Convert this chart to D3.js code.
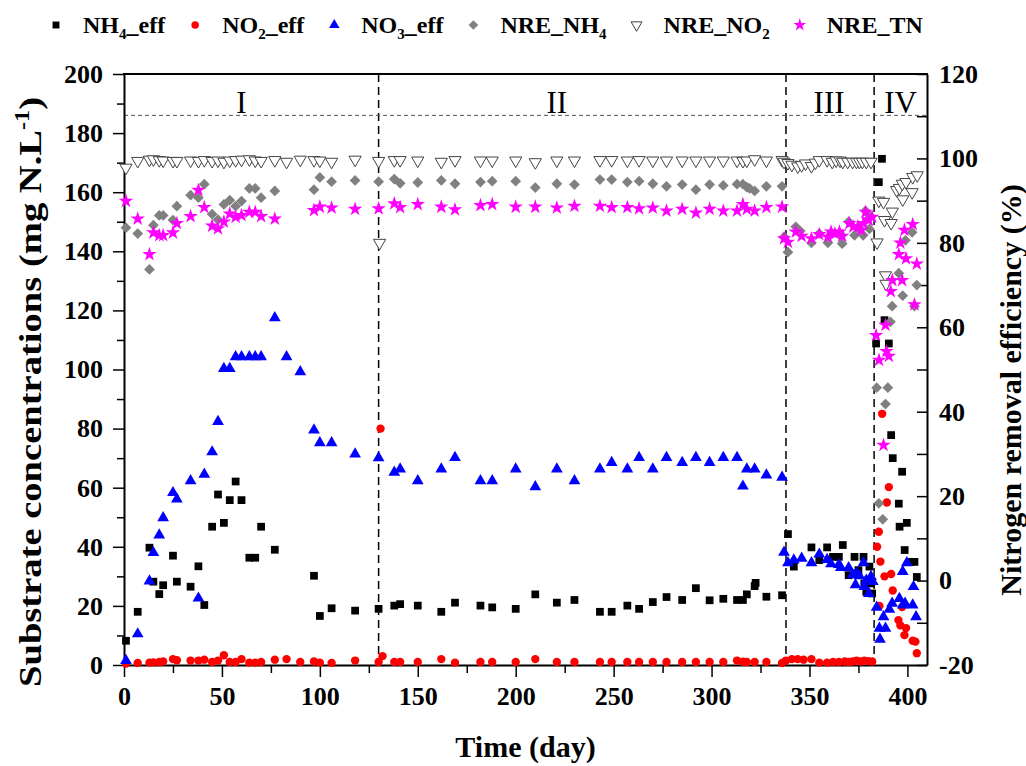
<!DOCTYPE html>
<html>
<head>
<meta charset="utf-8">
<script src="https://cdn.jsdelivr.net/npm/d3@7"></script>
<style>
  body { margin: 0; background: #fff; }
  text { font-family: "Liberation Serif", "Times New Roman", serif; }
</style>
</head>
<body>
<div id="chart"></div>
<script>
var width = 1026;
var height = 766;
var margin = {top: 74, right: 99, bottom: 101, left: 124};

// ---- data: [day, value] ----
var nh4Eff = [[1,8.2],[7,18],[13,39.7],[15,28.2],[18,24],[20,27],[25,37],[27,28.2],[34,26.5],[38,33.4],[41,20.3],[45,46.8],[48,57.7],[51,48.1],[54,55.8],[57,62.1],[60,55.8],[64,36.3],[67,36.3],[70,46.8],[77,39],[97,30.2],[100,16.6],[106,19.2],[118,18.4],[130,19],[138,20.1],[141,20.6],[150,20.1],[162,18],[169,21.1],[182,20.1],[188,19.5],[200,19],[210,23.9],[221,21.1],[230,22],[243,18],[249,18],[257,20.1],[263,19],[270,21.3],[277,23],[285,22],[292,26],[299,21.9],[306,22.4],[313,22],[316,22],[318,23.9],[322,26.7],[322.5,27.8],[328,23.1],[336,23.6],
  [339,44.3],[342,33.3],[351,39.8],[355,35.5],[359,39.8],[362,36.6],[365,36.6],[367,40.6],[370,30.4],[373,36.6],[374,31],[375,32.1],[377.6,36.6],[378,27.6],[379,24.8],[380,28.7],[380.6,33.3],[381.4,27.6],[382,24.2],
  [384,108.8],[385.4,163.4],[387,171.3],[388.3,116.7],[390.5,108.8],[391.7,77.8],[392.5,70],[395.6,54.6],[396,46.8],[397.3,65.4],[398.6,38.9],[399.7,48.1],[402,34.9],[403.6,34.9],[404.8,29.8]];

var no2Eff = [[1,0.5],[7,0.7],[13,0.8],[15,0.9],[18,1],[20,1.2],[25,2],[27,1.6],[34,1.5],[38,1.5],[41,1.8],[45,1],[48,1.5],[51,3.3],[54,1],[57,1],[60,2],[64,0.8],[67,0.8],[70,1],[77,1.8],[83,2],[90,1],[97,1.2],[100,0.8],[106,0.7],[118,1.5],[130,1],[131,80],[132,3],[138,1],[141,1],[150,1],[162,2],[169,0.8],[182,1],[188,1],[200,1],[210,2],[221,1],[230,1],[243,1],[249,1],[257,1],[263,1],[270,1],[277,1],[285,1],[292,1],[299,1],[306,1],[313,1.5],[316,1.1],[318,1],[322,1],[328,1],[336,0.7],
  [338,1.5],[341,2],[344,2],[347,1.8],[351,2],[355,0.8],[359,0.8],[362,1],[365,1],[368,1.2],[370,1],[372,1.2],[374,1.5],[376,1.2],[378,1.5],[380,1.3],[382,1.2],
  [384.5,40],[385.4,45.1],[385.7,20],[386.2,35],[387.1,85],[388.3,30],[389.5,55],[390.5,60.2],[391.7,30.8],[392.5,25.2],[395.4,15.2],[396.4,13.4],[397.3,19.6],[398.5,10.1],[399.3,12.5],[402.7,8.2],[404.1,7.9],[404.8,4]];

var no3Eff = [[1,1.5],[7,10.5],[13,28.4],[15,38],[18,44],[20,49.8],[25,58.3],[27,56.1],[34,62.3],[38,22.6],[41,64.5],[45,72.1],[48,82.4],[51,100.3],[54,100.3],[57,104.3],[60,104.3],[64,104.3],[67,104.3],[70,104.3],[77,117.5],[83,104.3],[90,99.2],[97,79.5],[100,75.2],[106,75.2],[118,71.4],[130,70.1],[138,65.2],[141,66.3],[150,62.3],[162,66.3],[169,70.2],[182,62.3],[188,62.3],[200,66.3],[210,60.3],[221,66.3],[230,62.3],[243,66.3],[249,68.5],[257,66.3],[263,70.2],[270,66.3],[277,70.2],[285,68.5],[292,70.2],[299,68.5],[306,70.2],[313,70.2],[316,60.5],[318,66.3],[322,66.3],[328,64.3],[336,63.5],
  [337,38.1],[339,34.6],[342,35.5],[346,36.1],[351,34.6],[355,37.5],[359,35.7],[361,34.2],[365,34],[366,33],[370,32.9],[372,30.5],[373.5,27.1],[374,31],[375.5,30.2],[377.6,34.6],[378,26.5],[379,28.7],[380.3,24.2],[381.4,29.9],[382.3,28.2],
  [384.3,19.5],[385.7,12.4],[386,8.7],[387.8,16.3],[388.8,12.4],[390.8,18.8],[392.2,20.9],[395.9,22.5],[397.6,20.3],[397.6,31.6],[398.8,20.9],[399.7,34.6],[402.7,20.3],[403.1,26.5],[404.4,16.3]];

var nreNh4 = [[1,83.6],[7,82.2],[13,73.7],[15,84.2],[18,86.5],[20,86.5],[25,85.4],[27,88.7],[34,91.3],[38,90.7],[41,93.9],[45,86.8],[48,85.5],[51,89.1],[54,90.1],[57,88.7],[60,89.9],[64,92.9],[67,92.9],[70,90.7],[77,92.3],[97,92.6],[100,95.5],[106,94.5],[118,94.8],[130,94.5],[138,95.1],[141,94.1],[150,94.3],[162,94.8],[169,94],[182,94.4],[188,94.6],[200,94.6],[210,93.1],[221,94],[230,93.8],[243,95],[249,95],[257,94.4],[263,94.6],[270,94],[277,93.4],[285,93.8],[292,92.6],[299,93.8],[306,93.6],[313,93.9],[316,93.9],[318,93.2],[319.4,92.9],[322,92.3],[328,93.4],[336,93.4],
  [337,81.4],[339,77.8],[343,83.8],[345.3,82.8],[351,80],[355,82.2],[359.4,80],[361.6,82.2],[365.6,82.2],[366.7,79.8],[370,85],[373,81.8],[375.5,83.4],[377.4,81.8],[378.6,87.6],[380.6,83.3],[380.6,86.5],
  [384.3,45.7],[385.4,18.3],[387.4,14.5],[388.8,41.8],[390,45.7],[391.3,61.3],[392.2,65],[395.6,72.8],[397.6,67.5],[399,80.6],[402.4,82.5],[403.6,65],[404.8,70]];

var nreNo2 = [[1,97.8],[7,99.4],[13,99.7],[15,99.8],[18,99.6],[20,99.5],[25,99.4],[27,99.4],[34,99.5],[38,99.4],[41,99.6],[45,99.4],[48,99.5],[51,99.2],[54,99.5],[57,99.6],[60,99.7],[64,99.8],[67,99.5],[70,99.4],[77,99.6],[83,99.2],[90,99.7],[97,99.6],[100,99.5],[106,99.2],[118,99.7],[130,99.4],[130.5,80],[138,99.6],[141,99.6],[150,99.5],[162,99.2],[169,99.6],[182,99.5],[188,99.5],[200,99.5],[210,99.1],[221,99.5],[230,99.5],[243,99.6],[249,99.6],[257,99.5],[263,99.6],[270,99.5],[277,99.5],[285,99.5],[292,99.5],[299,99.5],[306,99.5],[313,99.5],[316,99.4],[318,99.5],[322,99.8],[328,99.5],
  [336,99.6],[337,99.2],[339,98.9],[341,98.5],[344,98.1],[346,98.4],[348,98.8],[351,98.2],[353,99],[355,99.6],[359,99.6],[361.6,99.2],[363.6,99.5],[365.6,99.5],[367,99.2],[369.5,99.2],[372,99.2],[374,99.2],[375.5,99.2],[377,99.2],[379,99.2],[381.4,99.2],
  [384.5,80.1],[385.4,90],[387.8,89.7],[388.3,85.4],[388.8,72.3],[389.1,70.3],[391.7,84.7],[392.3,87.4],[394.5,92.5],[395.9,93],[397.4,94],[397.6,90.3],[399.3,94.4],[402.4,92],[402.7,95.6],[405,96]];

var nreTn = [[1,89.9],[7,85.7],[13,77.3],[15,82.4],[18,81.8],[20,81.8],[25,82.4],[27,84.6],[34,86.3],[38,92.5],[41,88.4],[45,84],[48,83.4],[51,85],[54,86.9],[57,86.1],[60,86.5],[64,87.3],[67,87.3],[70,86.3],[77,85.7],[97,87.7],[100,88.5],[106,88.3],[118,88],[130,88.1],[138,89.3],[141,88.4],[150,89.1],[162,88.5],[169,87.9],[182,88.9],[188,89.1],[200,88.5],[210,88.5],[221,88.3],[230,88.7],[243,88.7],[249,88.4],[257,88.4],[263,88.1],[270,88.3],[277,87.6],[285,88],[292,87.1],[299,88],[306,87.6],[313,87.6],[316,89.1],[318,88],[322,87.6],[328,88.4],[336,88.5],
  [337,81],[339,80.2],[343,82.6],[346,81.6],[351,81],[355,82],[359.4,81.4],[361,82.6],[363,82.2],[365.3,82.6],[366.7,81.6],[370.4,84.6],[372.4,83.8],[374.7,83.9],[376.4,83],[377.6,84.6],[378.6,87.3],[379.8,85.5],[380.3,85.4],[382,86.1],
  [384,58.1],[385.5,52.2],[387.8,32.1],[388.8,60.5],[389.3,54.3],[390.5,53.2],[391.5,68.5],[392.3,71.1],[395.6,77.3],[396.4,80],[397.3,71.1],[398.5,83],[399.3,76.3],[402.7,84.4],[403.6,65.4],[404.8,75]];

// phase boundaries and labels
var phaseLines = [130, 338, 383];
var phaseNames = ["I", "II", "III", "IV"];
var phaseLabelDays = [60, 221, 360, 396.5];

var xTicks = [0, 50, 100, 150, 200, 250, 300, 350, 400];
var leftTicks = [0, 20, 40, 60, 80, 100, 120, 140, 160, 180, 200];
var rightTicks = [-20, 0, 20, 40, 60, 80, 100, 120];

// ---- svg ----
var svg = d3.select("#chart").append("svg")
  .attr("width", width)
  .attr("height", height);

svg.append("rect").attr("width", width).attr("height", height).attr("fill", "#fff");

var x = d3.scaleLinear().domain([0, 410]).range([margin.left, width - margin.right]);
var yL = d3.scaleLinear().domain([0, 200]).range([height - margin.bottom, margin.top]);
var yR = d3.scaleLinear().domain([-20, 120]).range([height - margin.bottom, margin.top]);

var plotBottom = height - margin.bottom;
var plotRight = width - margin.right;

// phase separator lines
svg.selectAll(".phase")
  .data(phaseLines)
  .enter().append("line")
  .attr("x1", function(d) { return x(d); })
  .attr("x2", function(d) { return x(d); })
  .attr("y1", margin.top)
  .attr("y2", plotBottom)
  .attr("stroke", "#000")
  .attr("stroke-width", 1.5)
  .attr("stroke-dasharray", "8,5");

// horizontal dashed line under the phase labels
svg.append("line")
  .attr("x1", margin.left).attr("x2", plotRight)
  .attr("y1", yL(186)).attr("y2", yL(186))
  .attr("stroke", "#555")
  .attr("stroke-width", 1)
  .attr("stroke-dasharray", "4,3");

svg.selectAll(".phaseName")
  .data(phaseNames)
  .enter().append("text")
  .attr("x", function(d, i) { return x(phaseLabelDays[i]); })
  .attr("y", 113)
  .attr("text-anchor", "middle")
  .style("font-size", "31px")
  .text(function(d) { return d; });

// ---- axes ----
function styleAxis(g, size) {
  g.select(".domain").attr("stroke-width", 2);
  g.selectAll(".tick line").attr("stroke-width", 1.5);
  g.selectAll(".tick text")
    .style("font-family", "'Liberation Serif', 'Times New Roman', serif")
    .style("font-size", size)
    .style("font-weight", "bold")
    .attr("fill", "#000");
}

// minor ticks first
svg.append("g")
  .attr("transform", "translate(0," + plotBottom + ")")
  .call(d3.axisBottom(x).tickValues(d3.range(25, 410, 50)).tickSize(8).tickSizeOuter(0).tickFormat(""))
  .call(function(g) { g.select(".domain").remove(); g.selectAll(".tick line").attr("stroke-width", 1.5); });
svg.append("g")
  .attr("transform", "translate(" + margin.left + ",0)")
  .call(d3.axisLeft(yL).tickValues(d3.range(10, 200, 20)).tickSize(7).tickSizeOuter(0).tickFormat(""))
  .call(function(g) { g.select(".domain").remove(); g.selectAll(".tick line").attr("stroke-width", 1.5); });
svg.append("g")
  .attr("transform", "translate(" + plotRight + ",0)")
  .call(d3.axisRight(yR).tickValues(d3.range(-10, 120, 20)).tickSize(-10).tickSizeOuter(0).tickFormat(""))
  .call(function(g) { g.select(".domain").remove(); g.selectAll(".tick line").attr("stroke-width", 1.5); });

var xAxis = svg.append("g")
  .attr("transform", "translate(0," + plotBottom + ")")
  .call(d3.axisBottom(x).tickValues(xTicks).tickSize(12).tickSizeOuter(0).tickPadding(10).tickFormat(function(d) { return String(d); }));
styleAxis(xAxis, "26px");

var leftAxis = svg.append("g")
  .attr("transform", "translate(" + margin.left + ",0)")
  .call(d3.axisLeft(yL).tickValues(leftTicks).tickSize(11).tickSizeOuter(0).tickPadding(10).tickFormat(function(d) { return String(d); }));
styleAxis(leftAxis, "26px");

var rightAxis = svg.append("g")
  .attr("transform", "translate(" + plotRight + ",0)")
  .call(d3.axisRight(yR).tickValues(rightTicks).tickSize(-10).tickSizeOuter(0).tickPadding(12).tickFormat(function(d) { return String(d); }));
styleAxis(rightAxis, "26px");

// top frame line
svg.append("line")
  .attr("x1", margin.left - 1).attr("x2", plotRight + 1)
  .attr("y1", margin.top).attr("y2", margin.top)
  .attr("stroke", "#000").attr("stroke-width", 2);

// axis titles
svg.append("text")
  .attr("text-anchor", "middle")
  .attr("transform", "translate(" + ((margin.left + plotRight) / 2) + "," + 757 + ")")
  .style("font-size", "30px").style("font-weight", "bold")
  .text("Time (day)");

var lt = svg.append("text")
  .attr("text-anchor", "middle")
  .attr("transform", "translate(41,392) rotate(-90)")
  .attr("textLength", 590)
  .attr("lengthAdjust", "spacingAndGlyphs")
  .style("font-size", "32px").style("font-weight", "bold");
lt.append("tspan").text("Substrate concentrations (mg N.L");
lt.append("tspan").attr("dy", -12).style("font-size", "20px").text("-1");
lt.append("tspan").attr("dy", 12).text(")");

svg.append("text")
  .attr("text-anchor", "middle")
  .attr("transform", "translate(1021," + 390 + ") rotate(-90)")
  .style("font-size", "30px").style("font-weight", "bold")
  .text("Nitrogen removal efficiency (%)");

// ---- series ----
var series = [
  {data: nh4Eff, y: yL, sym: d3.symbolSquare, size: 60, rot: 0, fill: "#000", stroke: "none", main: "NH", sub: "4", tail: "_eff"},
  {data: no2Eff, y: yL, sym: d3.symbolCircle, size: 55, rot: 0, fill: "#ff0000", stroke: "none", main: "NO", sub: "2", tail: "_eff"},
  {data: no3Eff, y: yL, sym: d3.symbolTriangle, size: 60, rot: 0, fill: "#0000ff", stroke: "none", main: "NO", sub: "3", tail: "_eff"},
  {data: nreNh4, y: yR, sym: d3.symbolSquare, size: 58, rot: 45, fill: "#808080", stroke: "none", main: "NRE_NH", sub: "4", tail: ""},
  {data: nreNo2, y: yR, sym: d3.symbolTriangle, size: 65, rot: 180, fill: "#fff", stroke: "#444", main: "NRE_NO", sub: "2", tail: ""},
  {data: nreTn, y: yR, sym: d3.symbolStar, size: 65, rot: 0, fill: "#ff00ff", stroke: "none", main: "NRE_TN", sub: "", tail: ""}
];

series.forEach(function(s) {
  var path = d3.symbol().type(s.sym).size(s.size);
  svg.append("g").selectAll("path")
    .data(s.data)
    .enter().append("path")
    .attr("d", path)
    .attr("transform", function(d) {
      return "translate(" + x(d[0]) + "," + s.y(d[1]) + ") rotate(" + s.rot + ")";
    })
    .attr("fill", s.fill)
    .attr("stroke", s.stroke)
    .attr("stroke-width", 1);
});

// ---- legend ----
var lx = 56;
series.forEach(function(s) {
  var path = d3.symbol().type(s.sym).size(s.size * 0.8);
  svg.append("path")
    .attr("d", path)
    .attr("transform", "translate(" + lx + ",25) rotate(" + s.rot + ")")
    .attr("fill", s.fill)
    .attr("stroke", s.stroke)
    .attr("stroke-width", 1);
  var t = svg.append("text")
    .attr("x", lx + 27)
    .attr("y", 33)
    .style("font-size", "24px").style("font-weight", "bold");
  t.append("tspan").text(s.main);
  if (s.sub) t.append("tspan").attr("dy", 6).style("font-size", "15px").text(s.sub);
  if (s.tail) t.append("tspan").attr("dy", -6).text(s.tail);
  lx = lx + 27 + t.node().getComputedTextLength() + 30;
});
</script>
</body>
</html>
